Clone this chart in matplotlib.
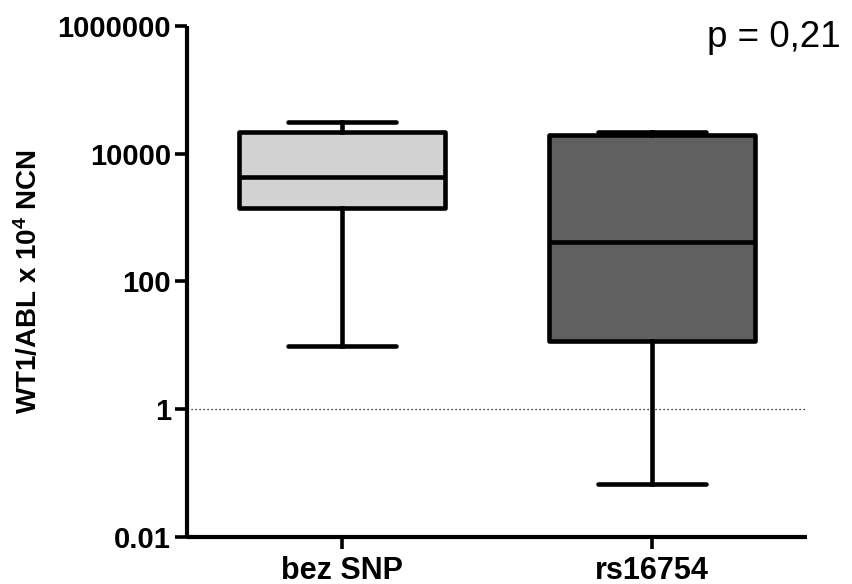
import matplotlib
matplotlib.use("Agg")
import matplotlib.pyplot as plt

# ---- data ----
categories = ["bez SNP", "rs16754"]
whisker_low = [9.8, 0.066]
q1 = [1395, 11.8]
median = [4360, 418]
q3 = [22100, 19600]
whisker_high = [31300, 22100]
box_colors = ["#d3d3d3", "#606060"]
y_ticks = [0.01, 1, 100, 10000, 1000000]
y_tick_labels = ["0.01", "1", "100", "10000", "1000000"]
ref_line = 1
p_text = "p = 0,21"
y_label = r"WT1/ABL x 10$^{\mathbf{4}}$ NCN"

plt.rcParams['font.family'] = ['Liberation Sans', 'DejaVu Sans']
plt.rcParams['mathtext.fontset'] = 'custom'
plt.rcParams['mathtext.rm'] = 'Liberation Sans:bold'
plt.rcParams['mathtext.bf'] = 'Liberation Sans:bold'
plt.rcParams['mathtext.default'] = 'bf'

fig = plt.figure(figsize=(8.52, 5.84), dpi=100)
ax = fig.add_axes([0.2195, 0.081, 0.947 - 0.2195, 0.9555 - 0.081])

stats = []
for i, c in enumerate(categories):
    stats.append(dict(label=c, whislo=whisker_low[i], q1=q1[i], med=median[i],
                      q3=q3[i], whishi=whisker_high[i], fliers=[]))

positions = list(range(len(categories)))
lw = 3.3
bp = ax.bxp(stats, positions=positions, widths=0.665, patch_artist=True,
            showfliers=False, capwidths=0.35,
            boxprops=dict(linewidth=lw, edgecolor='black'),
            medianprops=dict(color='black', linewidth=lw),
            whiskerprops=dict(color='black', linewidth=lw),
            capprops=dict(color='black', linewidth=lw, solid_capstyle='round'),
            zorder=3)
for patch, col in zip(bp['boxes'], box_colors):
    patch.set_facecolor(col)
    patch.set_joinstyle('round')

ax.set_yscale('log')
ax.set_ylim(y_ticks[0], y_ticks[-1])
ax.set_xlim(-0.5, len(categories) - 0.5)
ax.axhline(ref_line, color='black', linewidth=0.9, linestyle=(0, (1, 2.2)), zorder=1)

ax.set_yticks(y_ticks)
ax.set_yticklabels(y_tick_labels)
ax.yaxis.set_minor_locator(matplotlib.ticker.NullLocator())
ax.set_xticks(positions)
ax.set_xticklabels(categories)

for lab in ax.get_yticklabels():
    lab.set_fontweight('bold')
    lab.set_fontsize(21)
for lab in ax.get_xticklabels():
    lab.set_fontweight('bold')
    lab.set_fontsize(22)

ax.tick_params(axis='both', which='major', length=8.6, width=2.6, pad=3.0, color='black')
ax.tick_params(axis='x', pad=5)

for side in ['top', 'right']:
    ax.spines[side].set_visible(False)
for side in ['left', 'bottom']:
    ax.spines[side].set_linewidth(3.0)
    ax.spines[side].set_capstyle('butt')

ax.set_ylabel(y_label, fontsize=20, fontweight='bold', labelpad=10)

fig.text(707 / 852, 1 - 47 / 584, p_text, fontsize=26.5, ha='left', va='baseline')

fig.savefig("out.png", dpi=100)
